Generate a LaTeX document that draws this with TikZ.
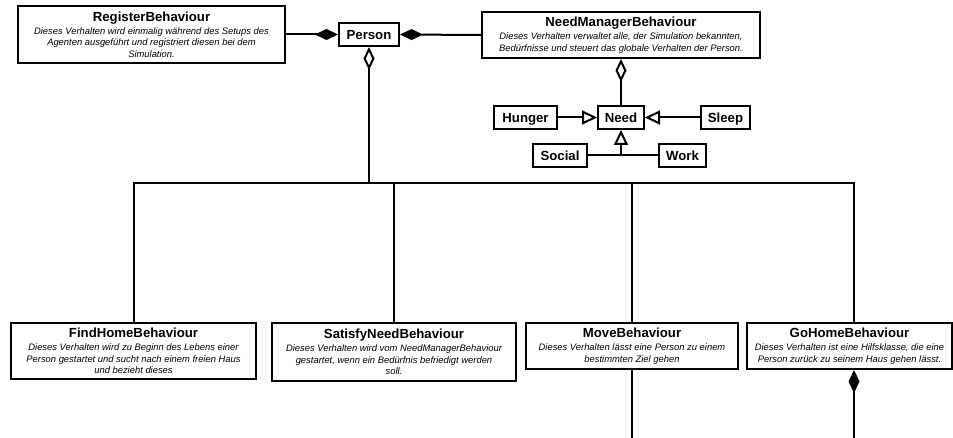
\documentclass[tikz,border=0pt]{standalone}
\usepackage{fontspec}
\setmainfont{Liberation Sans}
\usetikzlibrary{arrows.meta}
\newcommand\clstitle[1]{{\fontsize{13.2}{15}\selectfont\bfseries\upshape #1}}
\begin{document}
\begin{tikzpicture}[x=1pt,y=-1pt,
  line width=2pt,
  cls/.style={draw, rectangle, inner sep=0pt, align=center,
    font=\fontsize{9.4}{11.5}\selectfont\itshape},
  small/.style={draw, rectangle, inner sep=0pt, minimum height=23pt,
    text height=9.45pt, text depth=0pt,
    font=\fontsize{13.2}{15}\selectfont\bfseries},
  comp/.style={{Diamond[length=23pt,width=11pt]}-},
  aggr/.style={{Diamond[open,length=23pt,width=11pt]}-},
  inherit/.style={-{Triangle[open,length=15pt,width=14pt]}},
]
\useasboundingbox[fill=white] (0,0) rectangle (953,438);

% helper coordinates
\coordinate (bus) at (0,183);
\coordinate (bottom) at (0,440);
\coordinate (ghx) at (854,0);

% top row
\node[cls, minimum width=267pt, minimum height=57pt] (reg) at (151.5,34.5)
  {\clstitle{RegisterBehaviour}\\[1.5pt]
   Dieses Verhalten wird einmalig während des Setups des\\
   Agenten ausgeführt und registriert diesen bei dem\\
   Simulation.};
\node[small, minimum width=60pt] (person) at (369,34.5) {Person};
\node[cls, minimum width=278pt, minimum height=46pt] (nmb) at (621,35)
  {\clstitle{NeedManagerBehaviour}\\[2pt]
   Dieses Verhalten verwaltet alle, der Simulation bekannten,\\
   Bedürfnisse und steuert das globale Verhalten der Person.};

% needs
\node[small, minimum width=63pt] (hunger) at (525.5,117.5) {Hunger};
\node[small, minimum width=46pt] (need) at (621,117.5) {Need};
\node[small, minimum width=49pt] (sleep) at (725.5,117.5) {Sleep};
\node[small, minimum width=54pt] (social) at (560,155.5) {Social};
\node[small, minimum width=47pt] (work) at (682.5,155.5) {Work};

% behaviours
\node[cls, minimum width=245pt, minimum height=56pt] (findhome) at (133.5,351)
  {\clstitle{FindHomeBehaviour}\\[1.5pt]
   Dieses Verhalten wird zu Beginn des Lebens einer\\
   Person gestartet und sucht nach einem freien Haus\\
   und bezieht dieses};
\node[cls, minimum width=244pt, minimum height=58pt] (satisfy) at (394,352)
  {\clstitle{SatisfyNeedBehaviour}\\[1.5pt]
   Dieses Verhalten wird vom NeedManagerBehaviour\\
   gestartet, wenn ein Bedürfnis befriedigt werden\\
   soll.};
\node[cls, minimum width=212pt, minimum height=46pt] (move) at (632,346)
  {\clstitle{MoveBehaviour}\\[2pt]
   Dieses Verhalten lässt eine Person zu einem\\
   bestimmten Ziel gehen};
\node[cls, minimum width=205pt, minimum height=46pt] (gohome) at (849.5,346)
  {\clstitle{GoHomeBehaviour}\\[2pt]
   Dieses Verhalten ist eine Hilfsklasse, die eine\\
   Person zurück zu seinem Haus gehen lässt.};

% associations around Person
\draw[comp] (person.west) -- (reg.east);
\draw[comp] (person.east) -- (nmb.west);
\draw[aggr] (person.south) -- (person.south |- bus);
\draw (findhome.north) -- (findhome.north |- bus) -- (ghx |- bus) -- (gohome.north -| ghx);
\draw (satisfy.north) -- (satisfy.north |- bus);
\draw (move.north) -- (move.north |- bus);
\draw (move.south) -- (move.south |- bottom);
\draw[comp] (gohome.south -| ghx) -- (ghx |- bottom);

% need hierarchy
\draw[aggr] (nmb.south) -- (need.north);
\draw[inherit] (hunger.east) -- (need.west);
\draw[inherit] (sleep.west) -- (need.east);
\draw (social.east) -- (work.west);
\draw[inherit] (need.south |- social) -- (need.south);
\end{tikzpicture}
\end{document}
